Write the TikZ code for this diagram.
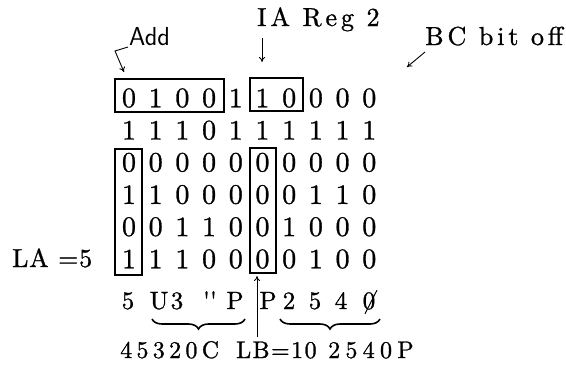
\documentclass[tikz,border=0pt]{standalone}
\usepackage{fontspec}
\setmainfont{lmroman10-regular.otf}[FakeBold=1]
\usetikzlibrary{arrows.meta,decorations.pathreplacing}

\tikzset{
  cell/.style={inner sep=0pt, font=\fontsize{28}{32}\selectfont},
  chr/.style={inner sep=0pt, anchor=base, font=\fontsize{25}{28}\selectfont},
  lbl/.style={inner sep=0pt, anchor=base west},
  frame/.style={line width=1.1pt},
  ptr/.style={line width=0.9pt, -{To[length=5pt,width=6pt]}},
  brc/.style={line width=1.6pt, decorate, decoration={brace, mirror, amplitude=10pt}},
}

\begin{document}
\begin{tikzpicture}[x=1pt,y=-1pt]
\useasboundingbox (0,0) rectangle (566,365);

% bit grid
\foreach \row [count=\r] in {
  {0,1,0,0,1,1,0,0,0,0},
  {1,1,1,0,1,1,1,1,1,1},
  {0,0,0,0,0,0,0,0,0,0},
  {1,1,0,0,0,0,0,1,1,0},
  {0,0,1,1,0,0,1,0,0,0},
  {1,1,1,0,0,0,0,1,0,0}} {
  \foreach \d [count=\c] in \row {
    \node[cell] (c-\r-\c) at ({129+26.7*(\c-1)}, {98+32.2*(\r-1)}) {\d};
  }
}

% framed groups
\draw[frame] (115,79) rectangle (224,112);
\draw[frame] (250,78) rectangle (303,111);
\draw[frame] (115,149) rectangle (142,275);
\draw[frame] (250,148) rectangle (276,273);

% top labels and pointers
\node[lbl, font=\sffamily\fontsize{26}{30}\selectfont] (add) at (129,45) {Add};
\node[lbl, font=\fontsize{26}{30}\selectfont\addfontfeatures{LetterSpace=15}] (ia) at (257,26) {IA Reg 2};
\node[lbl, font=\fontsize{26}{30}\selectfont\addfontfeatures{LetterSpace=15}] (bc) at (425,45) {BC bit off};

\coordinate (add0) at (128,47);
\coordinate (add1) at (115,51);
\coordinate (add2) at (124,72);
\draw[ptr] (add0) -- (add1) -- (add2);

\coordinate (ia0) at (262,38);
\coordinate (ia1) at (262,62);
\draw[ptr] (ia0) -- (ia1);

\coordinate (bc0) at (425,52);
\coordinate (bc1) at (407,67);
\draw[ptr] (bc0) -- (bc1);

% row label
\node[lbl, font=\fontsize{26}{30}\selectfont\addfontfeatures{LetterSpace=3}] (la) at (12,267) {LA =5};

% decoded characters
\node[chr] (k1) at (128,309) {5};
\node[chr] (k2) at (159,309) {U};
\node[chr] (k3) at (177,309) {3};
\node[chr] (k4) at (210,309) {\textquotesingle\textquotesingle};
\node[chr] (k5) at (235,309) {P};
\node[chr] (k6) at (268,309) {P};
\node[chr] (k7) at (289,309) {2};
\node[chr] (k8) at (315,309) {5};
\node[chr] (k9) at (341,309) {4};
\node[chr] (k10) at (369,309) {0};
\draw[line width=1pt] ([shift={(-4pt,-4pt)}]k10.south) -- ([shift={(8pt,2pt)}]k10.north);

% braces
\coordinate (b1l) at (152,319);
\coordinate (b1r) at (245,319);
\coordinate (b2l) at (280,319);
\coordinate (b2r) at (380,319);
\draw[brc] (b1l) -- (b1r);
\draw[brc] (b2l) -- (b2r);

% LB pointer
\coordinate (lb0) at (257,337);
\coordinate (lb1) at (257,276);
\draw[ptr] (lb0) -- (lb1);

% bottom line
\node[lbl, font=\fontsize{24}{27}\selectfont\addfontfeatures{LetterSpace=18}] (t1) at (120,358) {45320C};
\node[lbl, font=\fontsize{24}{27}\selectfont\addfontfeatures{LetterSpace=6}] (t2) at (236,358) {LB=10};
\node[lbl, font=\fontsize{24}{27}\selectfont\addfontfeatures{LetterSpace=22}] (t3) at (328,358) {2540P};
\end{tikzpicture}
\end{document}
